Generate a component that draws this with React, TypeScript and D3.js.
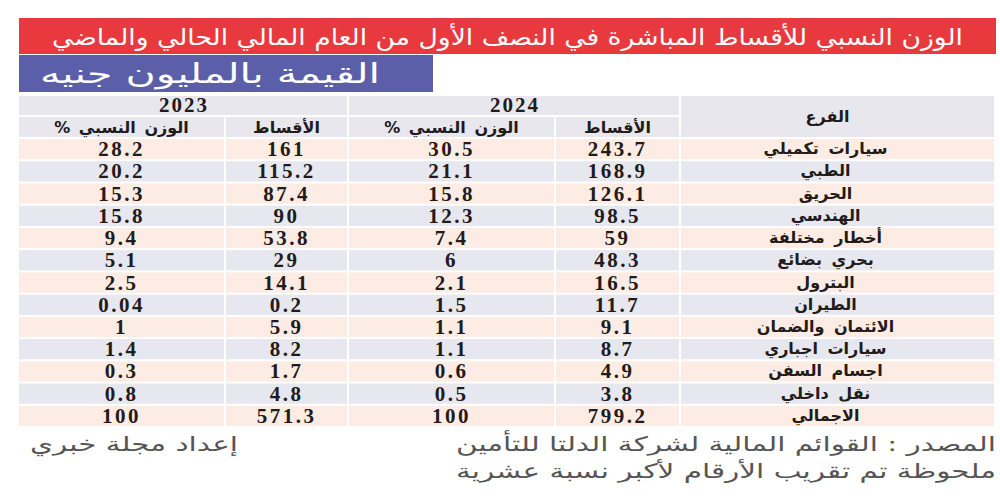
import React from "react";
import * as d3 from "d3";

const title = "الوزن النسبي للأقساط المباشرة في النصف الأول من العام المالي الحالي والماضي";
const subtitle = "القيمة بالمليون جنيه";
const years = ["2024", "2023"];
const colHeads = ["الفرع", "الأقساط", "الوزن النسبي %", "الأقساط", "الوزن النسبي %"];
const branches = [
  "سيارات تكميلي", "الطبي", "الحريق", "الهندسي", "أخطار مختلفة", "بحري بضائع",
  "البترول", "الطيران", "الائتمان والضمان", "سيارات اجباري", "اجسام السفن", "نقل داخلي", "الاجمالي",
];
const prem2024 = ["243.7", "168.9", "126.1", "98.5", "59", "48.3", "16.5", "11.7", "9.1", "8.7", "4.9", "3.8", "799.2"];
const share2024 = ["30.5", "21.1", "15.8", "12.3", "7.4", "6", "2.1", "1.5", "1.1", "1.1", "0.6", "0.5", "100"];
const prem2023 = ["161", "115.2", "87.4", "90", "53.8", "29", "14.1", "0.2", "5.9", "8.2", "1.7", "4.8", "571.3"];
const share2023 = ["28.2", "20.2", "15.3", "15.8", "9.4", "5.1", "2.5", "0.04", "1", "1.4", "0.3", "0.8", "100"];
const source = "المصدر : القوائم المالية لشركة الدلتا للتأمين";
const note = "ملحوظة تم تقريب الأرقام لأكبر نسبة عشرية";
const credit = "إعداد مجلة خبري";

const W = 1000;
const H = 500;
const arabic = "'DejaVu Sans', sans-serif";
const serif = "'Liberation Serif', 'DejaVu Serif', serif";

export default function App() {
  // columns from left to right: share2023, prem2023, share2024, prem2024, branch
  const colEdges = [19, 226, 349, 556, 681, 994];
  const gap = 2;
  const columns = [share2023, prem2023, share2024, prem2024, branches];
  const heads = [colHeads[2], colHeads[1], colHeads[4], colHeads[3]];

  const y = d3.scaleBand<number>().domain(d3.range(branches.length)).range([139, 426]).paddingInner(0.09);

  // in rtl text, anchor "start" sits on the right edge
  return (
    <svg width={W} height={H} style={{ position: "absolute", left: 0, top: 0, background: "#fff" }}>
      <rect x={19} y={18} width={977} height={36} fill="#e8393e" />
      <text x={963} y={45} textAnchor="start" direction="rtl" fill="#fff" fontFamily={arabic} fontSize={23}
        textLength={911} lengthAdjust="spacingAndGlyphs">{title}</text>
      <rect x={19} y={55} width={414} height={37} fill="#5b5ea8" />
      <text x={380} y={83} textAnchor="start" direction="rtl" fill="#fff" fontFamily={arabic} fontSize={27}
        textLength={340} lengthAdjust="spacingAndGlyphs">{subtitle}</text>

      {/* header */}
      <rect x={colEdges[0]} y={96} width={colEdges[2] - colEdges[0] - gap} height={19} fill="#e7e7ed" />
      <rect x={colEdges[2]} y={96} width={colEdges[4] - colEdges[2] - gap} height={19} fill="#e7e7ed" />
      <text x={(colEdges[0] + colEdges[2]) / 2} y={112} textAnchor="middle" fontFamily={serif} fontWeight="bold" fontSize={21} letterSpacing={2} fill="#231a1a">{years[1]}</text>
      <text x={(colEdges[2] + colEdges[4]) / 2} y={112} textAnchor="middle" fontFamily={serif} fontWeight="bold" fontSize={21} letterSpacing={2} fill="#231a1a">{years[0]}</text>
      {heads.map((h, i) => (
        <g key={"h" + i}>
          <rect x={colEdges[i]} y={117} width={colEdges[i + 1] - colEdges[i] - gap} height={20} fill="#e7e7ed" />
          <text x={(colEdges[i] + colEdges[i + 1] - gap) / 2} y={133} textAnchor="middle" direction="rtl"
            fontFamily={arabic} fontWeight="bold" fontSize={16} wordSpacing={3} fill="#231a1a">{h}</text>
        </g>
      ))}
      <rect x={colEdges[4]} y={96} width={colEdges[5] - colEdges[4]} height={41} fill="#e7e7ed" />
      <text x={(colEdges[4] + colEdges[5]) / 2 - 10} y={122} textAnchor="middle" direction="rtl"
        fontFamily={arabic} fontWeight="bold" fontSize={16} fill="#231a1a">{colHeads[0]}</text>

      {/* rows */}
      {branches.map((_, r) => (
        <g key={"r" + r}>
          {columns.map((col, c) => {
            const x0 = colEdges[c];
            const x1 = colEdges[c + 1] - (c < 4 ? gap : 0);
            const isLabel = c === 4;
            return (
              <g key={c}>
                <rect x={x0} y={y(r)!} width={x1 - x0} height={y.bandwidth()} fill={r % 2 === 0 ? "#fcece4" : "#e7e7f0"} />
                <text x={(x0 + x1) / 2 - (isLabel ? 12 : 0)} y={y(r)! + y.bandwidth() / 2 + (isLabel ? 5 : 7)} textAnchor="middle"
                  direction={isLabel ? "rtl" : "ltr"}
                  fontFamily={isLabel ? arabic : serif} fontWeight="bold"
                  fontSize={isLabel ? 16 : 21} letterSpacing={isLabel ? 0 : 2.5} wordSpacing={isLabel ? 4 : 0}
                  fill="#231a1a">{col[r]}</text>
              </g>
            );
          })}
        </g>
      ))}

      {/* footer */}
      <text x={996} y={451} textAnchor="start" direction="rtl" fill="#555" fontFamily={arabic} fontSize={20}
        textLength={540} lengthAdjust="spacingAndGlyphs">{source}</text>
      <text x={996} y={478} textAnchor="start" direction="rtl" fill="#555" fontFamily={arabic} fontSize={20}
        textLength={540} lengthAdjust="spacingAndGlyphs">{note}</text>
      <text x={238} y={451} textAnchor="start" direction="rtl" fill="#555" fontFamily={arabic} fontSize={20}
        textLength={208} lengthAdjust="spacingAndGlyphs">{credit}</text>
    </svg>
  );
}
